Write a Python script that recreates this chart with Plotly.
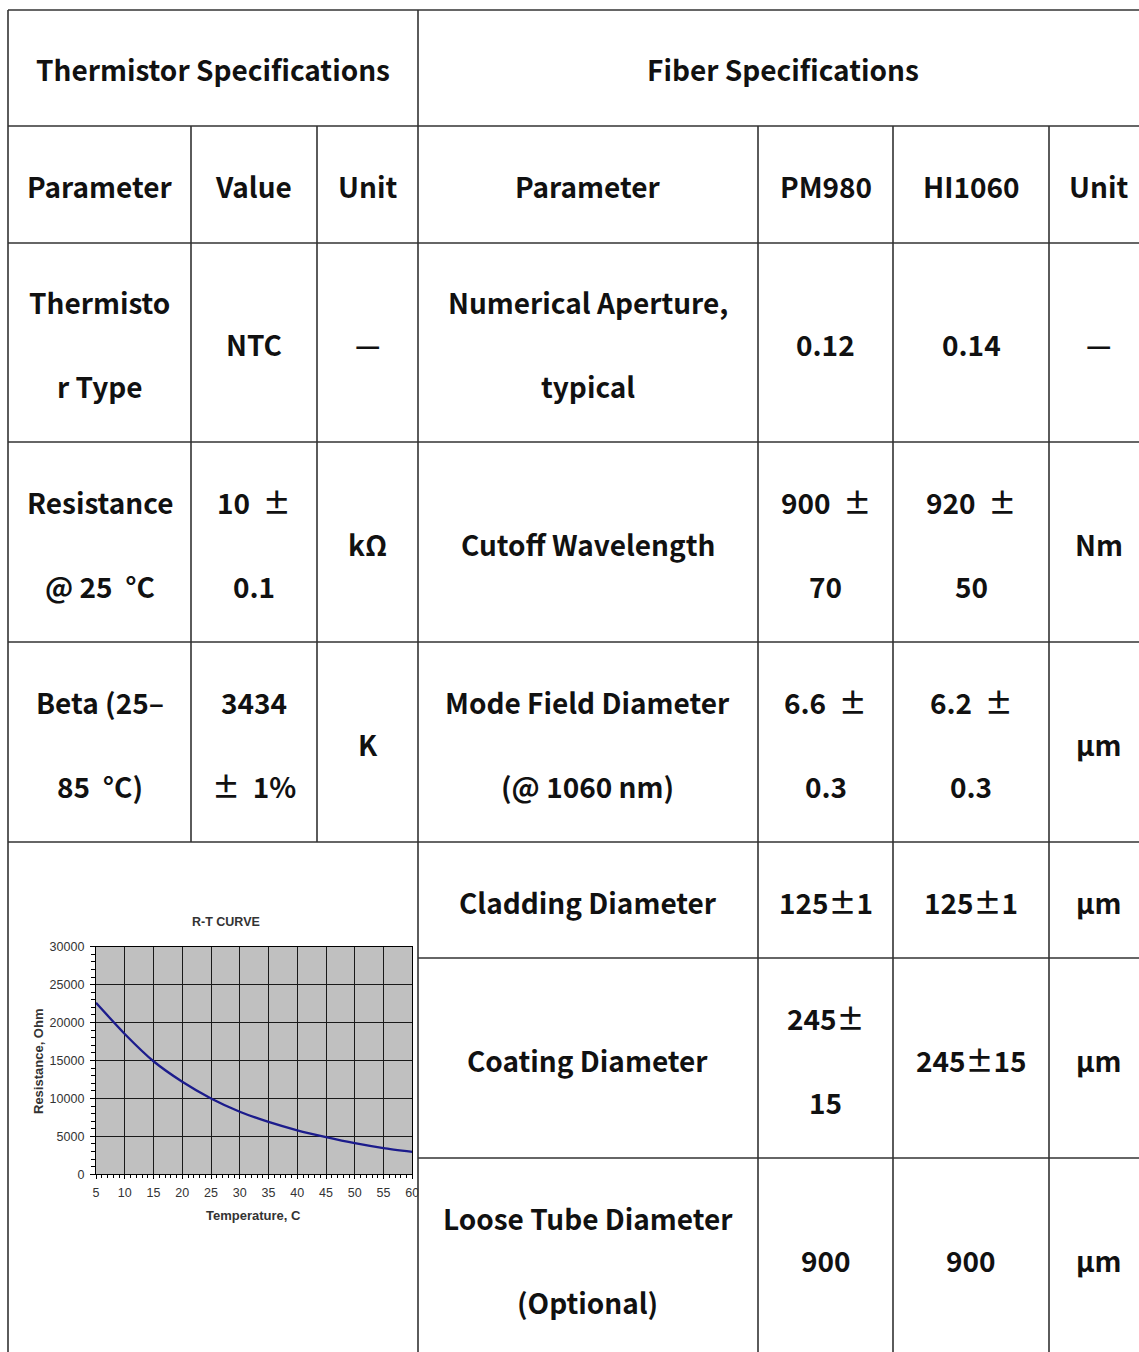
import plotly.graph_objects as go

W, H = 1139, 1352

# ---------------- data: R-T curve ----------------
temps_c = [5, 10, 15, 20, 25, 30, 35, 40, 45, 50, 55, 60]
resistance_ohm = [22600, 18500, 14900, 12200, 10000, 8250, 6900, 5800, 4900, 4100, 3450, 2950]
x_tick_vals = [5, 10, 15, 20, 25, 30, 35, 40, 45, 50, 55, 60]
y_tick_vals = [0, 5000, 10000, 15000, 20000, 25000, 30000]
chart_title = "R-T CURVE"
x_title = "Temperature, C"
y_title = "Resistance, Ohm"

# ---------------- data: table text ----------------
therm_header = "Thermistor Specifications"
fiber_header = "Fiber Specifications"
therm_columns = ["Parameter", "Value", "Unit"]
fiber_columns = ["Parameter", "PM980", "HI1060", "Unit"]
therm_rows = [
    [["Thermisto", "r Type"], ["NTC"], ["—"]],
    [["Resistance", "@ 25  °C"], ["10  ±", "0.1"], ["kΩ"]],
    [["Beta (25–", "85  °C)"], ["3434", "±  1%"], ["K"]],
]
fiber_rows = [
    [["Numerical Aperture,", "typical"], ["0.12"], ["0.14"], ["—"]],
    [["Cutoff Wavelength"], ["900  ±", "70"], ["920  ±", "50"], ["Nm"]],
    [["Mode Field Diameter", "(@ 1060 nm)"], ["6.6  ±", "0.3"], ["6.2  ±", "0.3"], ["μm"]],
    [["Cladding Diameter"], ["125±1"], ["125±1"], ["μm"]],
    [["Coating Diameter"], ["245±", "15"], ["245±15"], ["μm"]],
    [["Loose Tube Diameter", "(Optional)"], ["900"], ["900"], ["μm"]],
]

# ---------------- layout geometry (pixels) ----------------
X_LEFT, X_MID, X_RIGHT = 8, 418, 1139
TABLE_RIGHT = 1148  # right border lies just outside the picture
therm_col_edges = [8, 191, 317, 418]
fiber_col_edges = [418, 758, 893, 1049, TABLE_RIGHT]
Y_TOP, Y_HDR, Y_COLS = 10, 126, 243
therm_row_edges = [243, 442, 642, 842]
fiber_row_edges = [243, 442, 642, 842, 958, 1158, 1358]
LINE_GAP = 42
TEXT_DY = 1.5


def px(x):
    return x / W


def py(y):
    return 1 - y / H


fig = go.Figure()
fig.add_trace(go.Scatter(
    x=temps_c, y=resistance_ohm, mode="lines",
    line=dict(color="#1c1c8c", width=2.3, shape="spline", smoothing=0.6),
    hoverinfo="skip", showlegend=False,
))

tick_font = dict(family="Liberation Sans, Arial, sans-serif", size=12.5, color="#333333")

fig.update_layout(
    template="none",
    width=W, height=H,
    margin=dict(l=0, r=0, t=0, b=0, pad=0),
    paper_bgcolor="white",
    plot_bgcolor="#c0c0c0",
    showlegend=False,
    xaxis=dict(
        domain=[px(96), px(412.3)], range=[5, 60], tickmode="array", tickvals=x_tick_vals,
        ticks="outside", ticklen=4, tickwidth=1, tickcolor="black",
        showgrid=True, gridcolor="#1a1a1a", gridwidth=1.3,
        showline=True, linecolor="black", linewidth=1.3, mirror=True,
        zeroline=False, automargin=False, tickfont=tick_font, ticklabelstandoff=3,
        minor=dict(dtick=1, ticks="outside", ticklen=3, tickcolor="black", showgrid=False),
        fixedrange=True,
    ),
    yaxis=dict(
        domain=[py(1174.3), py(946.7)], range=[0, 30000], tickmode="array", tickvals=y_tick_vals,
        tickformat="d",
        ticks="outside", ticklen=5, tickwidth=1, tickcolor="black",
        showgrid=True, gridcolor="#1a1a1a", gridwidth=1.3,
        showline=True, linecolor="black", linewidth=1.3, mirror=True,
        zeroline=False, automargin=False, tickfont=tick_font, ticklabelstandoff=3,
        minor=dict(dtick=1000, ticks="outside", ticklen=4, tickcolor="black", showgrid=False),
        fixedrange=True,
    ),
)

shapes = []
# white mask clipping the chart image at the cell border
shapes.append(dict(type="rect", xref="paper", yref="paper", x0=px(418.5), x1=px(445),
                   y0=py(1206), y1=py(1180), fillcolor="white", line=dict(width=0), layer="above"))


def hline(x0, x1, y):
    shapes.append(dict(type="line", xref="paper", yref="paper", x0=px(x0), x1=px(x1),
                       y0=py(y), y1=py(y), line=dict(color="#333333", width=1.6), layer="above"))


def vline(x, y0, y1):
    shapes.append(dict(type="line", xref="paper", yref="paper", x0=px(x), x1=px(x),
                       y0=py(y0), y1=py(y1), line=dict(color="#333333", width=1.6), layer="above"))


hline(X_LEFT, X_RIGHT, Y_TOP)
hline(X_LEFT, X_RIGHT, Y_HDR)
hline(X_LEFT, X_RIGHT, Y_COLS)
for y in therm_row_edges[1:]:
    hline(X_LEFT, X_RIGHT, y)
for y in fiber_row_edges[4:-1]:
    hline(X_MID, X_RIGHT, y)
vline(X_LEFT, Y_TOP, H)
vline(X_MID, Y_TOP, H)
for x in therm_col_edges[1:-1]:
    vline(x, Y_HDR, therm_row_edges[-1])
for x in fiber_col_edges[1:-1]:
    vline(x, Y_HDR, H)

annotations = []
cell_font = dict(family="Noto Sans CJK SC, Noto Sans, sans-serif", size=28, color="#111111", weight="bold")


def cell_text(lines, x0, x1, y0, y1):
    cx = (x0 + x1) / 2
    cy = (y0 + y1) / 2 + TEXT_DY
    n = len(lines)
    for i, t in enumerate(lines):
        yy = cy + (i - (n - 1) / 2) * 2 * LINE_GAP
        annotations.append(dict(text=t, x=px(cx), y=py(yy), xref="paper", yref="paper",
                                xanchor="center", yanchor="middle", showarrow=False, font=cell_font))


cell_text([therm_header], X_LEFT, X_MID, Y_TOP, Y_HDR)
cell_text([fiber_header], X_MID, TABLE_RIGHT, Y_TOP, Y_HDR)
for j, t in enumerate(therm_columns):
    cell_text([t], therm_col_edges[j], therm_col_edges[j + 1], Y_HDR, Y_COLS)
for j, t in enumerate(fiber_columns):
    cell_text([t], fiber_col_edges[j], fiber_col_edges[j + 1], Y_HDR, Y_COLS)
for i, row in enumerate(therm_rows):
    for j, lines in enumerate(row):
        cell_text(lines, therm_col_edges[j], therm_col_edges[j + 1], therm_row_edges[i], therm_row_edges[i + 1])
for i, row in enumerate(fiber_rows):
    for j, lines in enumerate(row):
        cell_text(lines, fiber_col_edges[j], fiber_col_edges[j + 1], fiber_row_edges[i], fiber_row_edges[i + 1])

# chart titles
title_font = dict(family="Liberation Sans, Arial, sans-serif", size=12.5, color="#333333", weight="bold")
axis_title_font = dict(family="Liberation Sans, Arial, sans-serif", size=13, color="#333333", weight="bold")
annotations.append(dict(text=chart_title, x=px(226), y=py(922), xref="paper", yref="paper",
                        xanchor="center", yanchor="middle", showarrow=False, font=title_font))
annotations.append(dict(text=x_title, x=px(254), y=py(1215), xref="paper", yref="paper",
                        xanchor="center", yanchor="middle", showarrow=False, font=axis_title_font))
annotations.append(dict(text=y_title, x=px(38), y=py(1061), xref="paper", yref="paper",
                        xanchor="center", yanchor="middle", showarrow=False, font=axis_title_font,
                        textangle=-90))

fig.update_layout(shapes=shapes, annotations=annotations)

fig.write_html("out.html", config={"displayModeBar": False},
               post_script="document.body.style.margin='0';")
